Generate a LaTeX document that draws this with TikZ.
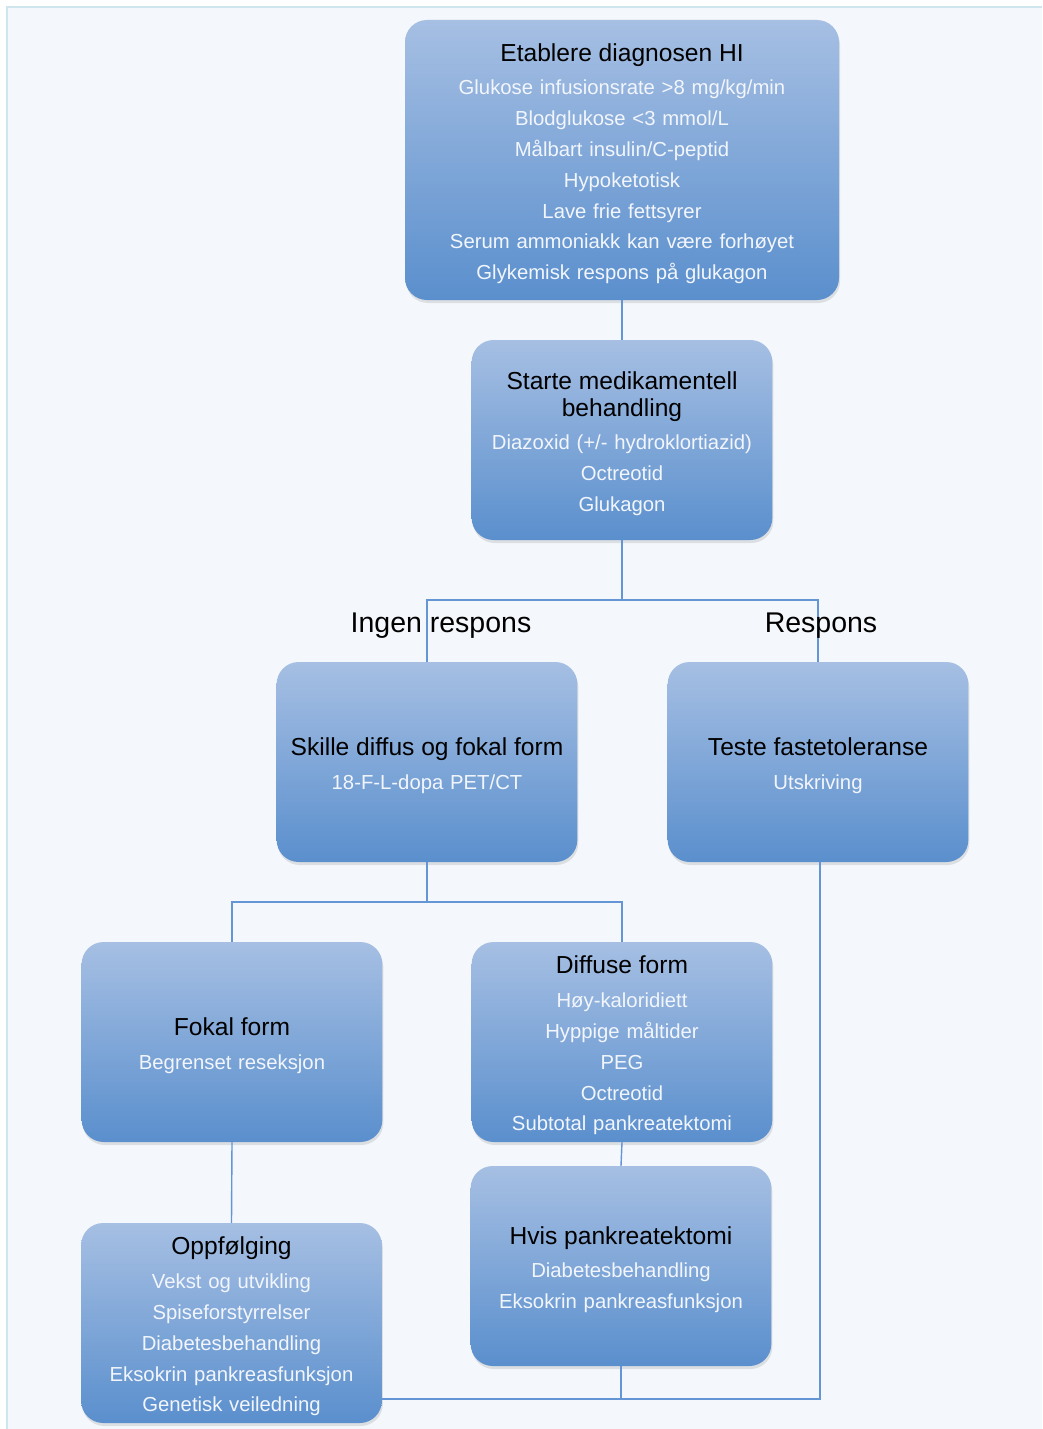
\documentclass[tikz,border=0pt]{standalone}
\usepackage{fontspec}
\setmainfont{Liberation Sans}
\usetikzlibrary{shadows}
\definecolor{boxtop}{RGB}{166,191,227}
\definecolor{boxbot}{RGB}{90,143,205}
\definecolor{subtext}{RGB}{242,246,252}
\definecolor{linkblue}{RGB}{100,149,212}
\definecolor{bgfill}{RGB}{244,247,251}
\definecolor{bgline}{RGB}{207,230,238}
\newcommand{\hd}[1]{{\color{black}\fontsize{24.6}{27}\selectfont #1}}
\newcommand{\topstrut}{\rule{0pt}{25pt}}
\tikzset{
  box/.style={rounded corners=22pt, top color=boxtop, bottom color=boxbot,
    minimum width=300pt, minimum height=200pt, text width=294pt, align=center,
    text=subtext, font=\fontsize{20.3}{30.8}\selectfont,
    drop shadow={opacity=0.2, shadow xshift=1pt, shadow yshift=-3pt}},
  link/.style={draw=linkblue, line width=1.4pt},
  branch/.style={font=\fontsize{28.5}{30}\selectfont, text=black}
}
\begin{document}
\begin{tikzpicture}[x=1pt,y=-1pt]
  \useasboundingbox (0,0) rectangle (1042,1429);
  \fill[bgfill] (7,7) rectangle (1042,1429);
  \draw[bgline, line width=1.5pt] (7,1429) -- (7,7) -- (1042,7);
  % boxes
  \node[box, minimum width=434pt, minimum height=280pt, text width=424pt] (diag) at (622,160)
    {\topstrut\hd{Etablere diagnosen HI}\\[3pt] Glukose infusionsrate >8 mg/kg/min\\ Blodglukose <3 mmol/L\\
     Målbart insulin/C-peptid\\ Hypoketotisk\\ Lave frie fettsyrer\\
     Serum ammoniakk kan være forhøyet\\ Glykemisk respons på glukagon};
  \node[box] (start) at (622,440)
    {\topstrut\hd{Starte medikamentell}\\[-4pt] \hd{behandling}\\[3pt] Diazoxid (+/- hydroklortiazid)\\ Octreotid\\ Glukagon};
  \node[box] (skille) at (427,762) {\topstrut\hd{Skille diffus og fokal form}\\[3pt] 18-F-L-dopa PET/CT};
  \node[box] (teste) at (818,762) {\topstrut\hd{Teste fastetoleranse}\\[3pt] Utskriving};
  \node[box] (fokal) at (232,1042) {\topstrut\hd{Fokal form}\\[3pt] Begrenset reseksjon};
  \node[box] (diffus) at (622,1042)
    {\topstrut\hd{Diffuse form}\\[3pt] Høy-kaloridiett\\ Hyppige måltider\\ PEG\\ Octreotid\\ Subtotal pankreatektomi};
  \node[box] (hvis) at (621,1266)
    {\topstrut\hd{Hvis pankreatektomi}\\[3pt] Diabetesbehandling\\ Eksokrin pankreasfunksjon};
  \node[box, minimum width=299pt] (oppf) at (231.5,1323)
    {\topstrut\hd{Oppfølging}\\[3pt] Vekst og utvikling\\ Spiseforstyrrelser\\ Diabetesbehandling\\
     Eksokrin pankreasfunksjon\\ Genetisk veiledning};
  % connectors
  \coordinate (split1) at (622,600);
  \coordinate (split2) at (427,902);
  \coordinate (join) at (820,1399);
  \draw[link] (diag.south) -- (start.north);
  \draw[link] (start.south) -- (split1) -| (skille.north);
  \draw[link] (split1) -| (teste.north);
  \draw[link] (skille.south) -- (split2) -| (fokal.north);
  \draw[link] (split2) -| (diffus.north);
  \draw[link] (fokal.south) -- (oppf.north);
  \draw[link] (diffus.south) -- (hvis.north);
  \draw[link] (teste.south -| join) -- (join) -- (oppf.east |- join);
  \draw[link] (hvis.south) -- (hvis.south |- join);
  % labels
  \node[branch] (ingen) at (441,626) {Ingen respons};
  \node[branch] (resp) at (821,626) {Respons};
\end{tikzpicture}
\end{document}
